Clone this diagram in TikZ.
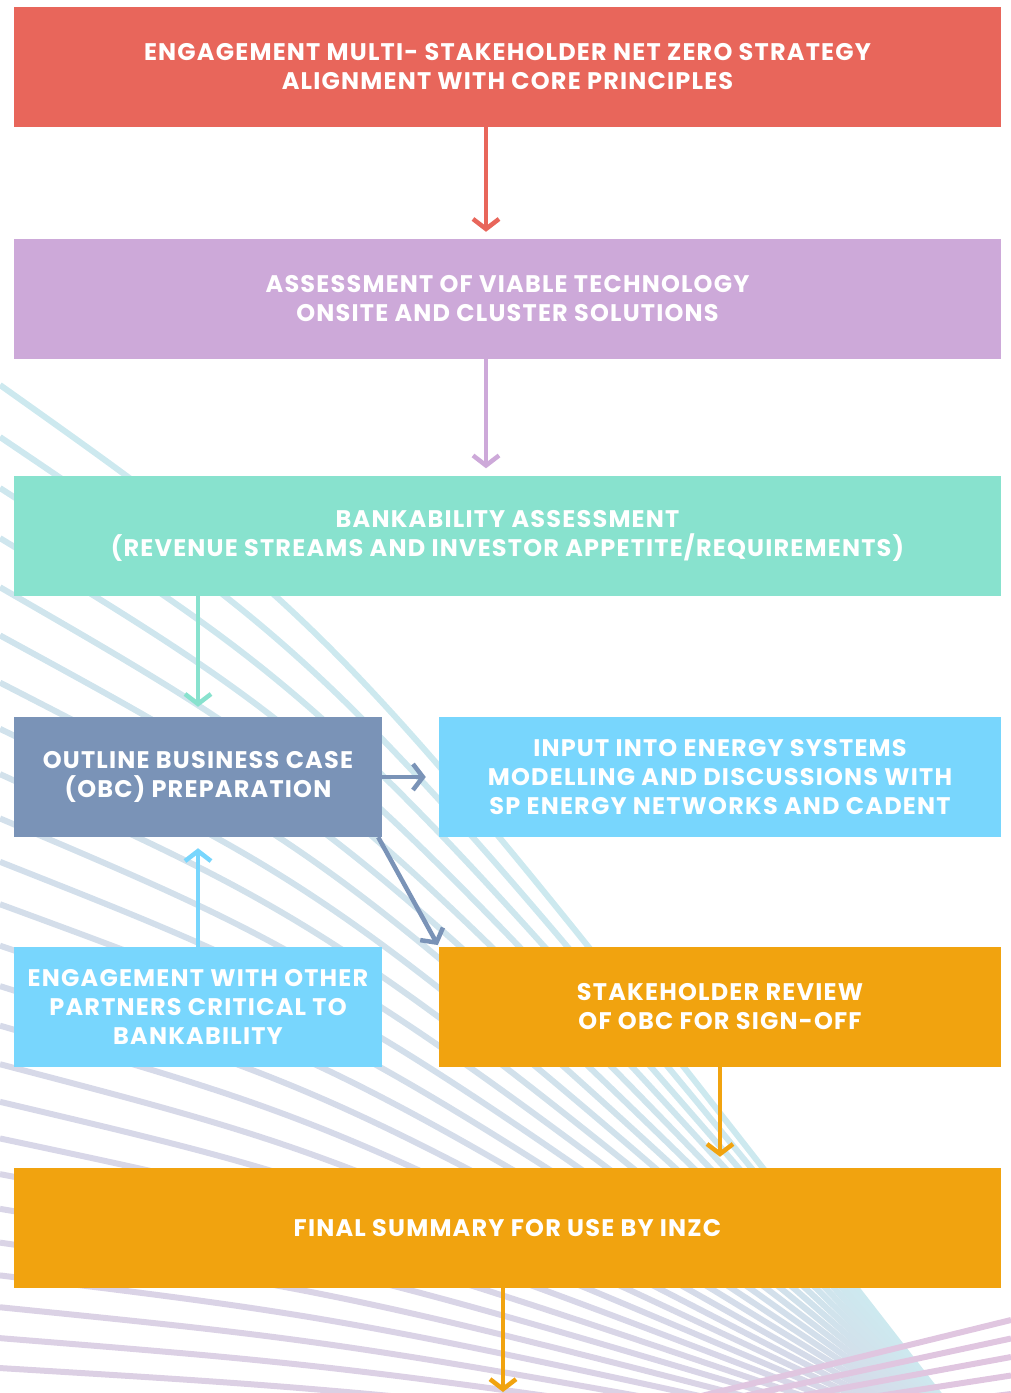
\documentclass[tikz,border=0pt]{standalone}
\usepackage{fontspec}
\setmainfont{Poppins}[LetterSpace=5.0]
\usetikzlibrary{arrows.meta,calc}

\definecolor{cRed}{HTML}{E8665B}
\definecolor{cPurple}{HTML}{CDA9D9}
\definecolor{cTeal}{HTML}{88E2CE}
\definecolor{cSlate}{HTML}{7A93B7}
\definecolor{cSky}{HTML}{78D6FD}
\definecolor{cOrange}{HTML}{F1A30F}
\definecolor{fanCyan}{HTML}{CDE9EF}
\definecolor{fanLav}{HTML}{DDCFE4}
\definecolor{fanPink}{HTML}{E0C6E0}

\begin{document}
\begin{tikzpicture}[x=1pt,y=-1pt,
  box/.style={rectangle, inner sep=0pt, text=white, align=center,
    font=\fontsize{24}{29}\selectfont\bfseries},
  wide/.style={box, minimum width=987pt, minimum height=120pt},
  narrow/.style={box, minimum width=368pt, minimum height=120pt},
  medium/.style={box, minimum width=562pt, minimum height=120pt},
  flow/.style={line width=4.5pt, -{Straight Barb[length=10pt,width=26pt]}},
  fan/.style={line width=6pt}]

\useasboundingbox (0,0) rectangle (1011,1393);

% background fan of curved lines
\begin{scope}
  \clip (0,0) rectangle (1011,1393);
  \foreach \i in {0,...,25} {
    \pgfmathsetmacro\yy{385+52*\i-0.48*\i*(\i-1)}
    \pgfmathsetmacro\cy{\yy+0.229*(1460-\yy)}
    \pgfmathtruncatemacro\pc{100*\i/25}
    \draw[fan, draw=fanLav!\pc!fanCyan] (0,\yy) .. controls (346.5,\cy) .. (990,1460);
  }
  \foreach \j in {0,...,5} {
    \pgfmathsetmacro\yr{1320+18.5*\j}
    \draw[fan, draw=fanPink] (1011,\yr) -- (400,1470);
  }
\end{scope}

% process boxes
\node[wide, fill=cRed] (n1) at (507.5,67)
  {ENGAGEMENT MULTI- STAKEHOLDER NET ZERO STRATEGY\\ALIGNMENT WITH CORE PRINCIPLES};
\node[wide, fill=cPurple] (n2) at (507.5,299)
  {ASSESSMENT OF VIABLE TECHNOLOGY\\ONSITE AND CLUSTER SOLUTIONS};
\node[wide, fill=cTeal] (n3) at (507.5,535.5)
  {BANKABILITY ASSESSMENT\\(REVENUE STREAMS AND INVESTOR APPETITE/REQUIREMENTS)};
\node[narrow, fill=cSlate] (n4) at (198,777)
  {OUTLINE BUSINESS CASE\\(OBC) PREPARATION};
\node[medium, fill=cSky] (n5) at (720,777)
  {INPUT INTO ENERGY SYSTEMS\\MODELLING AND DISCUSSIONS WITH\\SP ENERGY NETWORKS AND CADENT};
\node[narrow, fill=cSky] (n6) at (198,1007)
  {ENGAGEMENT WITH OTHER\\PARTNERS CRITICAL TO\\BANKABILITY};
\node[medium, fill=cOrange] (n7) at (720,1007)
  {STAKEHOLDER REVIEW\\OF OBC FOR SIGN-OFF};
\node[wide, fill=cOrange] (n8) at (507.5,1228)
  {FINAL SUMMARY FOR USE BY INZC};

\coordinate (col1) at (486,0);
\coordinate (col2) at (503,0);
\coordinate (outEnd) at (503,1392);

% connectors
\draw[flow, cRed, shorten >=7pt] (n1.south -| col1) -- (n2.north -| col1);
\draw[flow, cPurple, shorten >=7pt] (n2.south -| col1) -- (n3.north -| col1);
\draw[flow, cTeal, shorten >=10pt] (n3.south -| n4.north) -- (n4.north);
\draw[flow, cSlate, shorten >=13pt] (n4.east) -- (n5.west);
\draw[flow, cSlate, shorten >=2pt] ($(n4.south east)+(-4,0)$) -- (n7.north west);
\draw[flow, cSky, shorten >=11pt] (n6.north) -- (n4.south);
\draw[flow, cOrange, shorten >=11pt] (n7.south) -- (n8.north -| n7.south);
\draw[flow, cOrange] (n8.south -| col2) -- (outEnd);

\end{tikzpicture}
\end{document}
